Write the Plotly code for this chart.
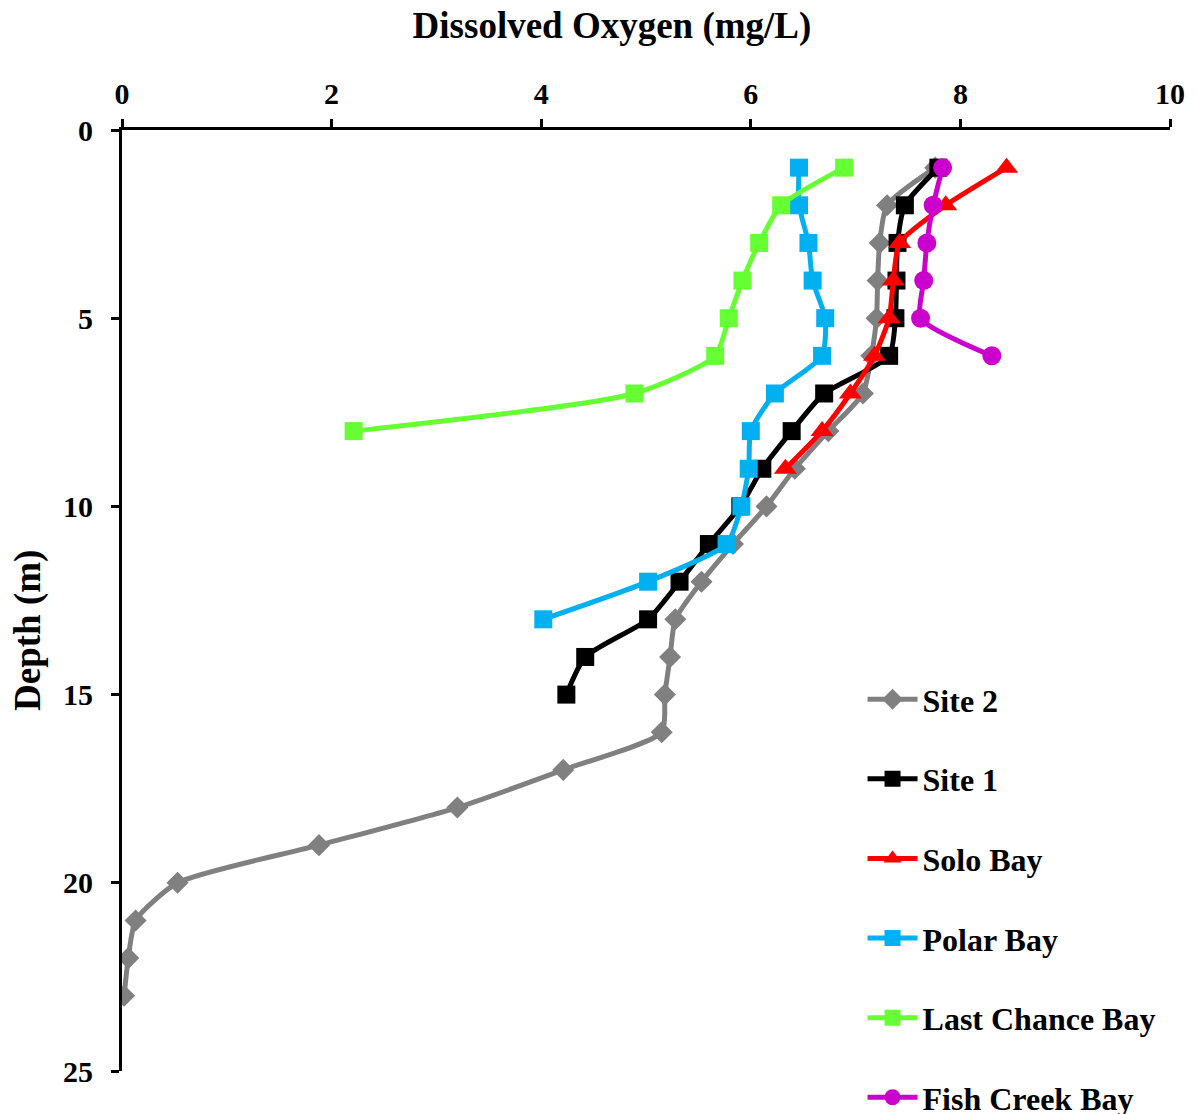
import plotly.graph_objects as go

site2_depth = list(range(1, 24))
site2_do = [7.76, 7.30, 7.23, 7.21, 7.20, 7.15, 7.07, 6.74, 6.42, 6.15, 5.83, 5.53, 5.28,
            5.23, 5.18, 5.15, 4.21, 3.20, 1.88, 0.53, 0.13, 0.06, 0.02]

site1_depth = list(range(1, 16))
site1_do = [7.79, 7.47, 7.40, 7.39, 7.38, 7.32, 6.70, 6.39, 6.11, 5.90, 5.60, 5.32, 5.02, 4.42, 4.24]

solo_depth = list(range(1, 10))
solo_do = [8.44, 7.86, 7.42, 7.36, 7.32, 7.18, 6.95, 6.68, 6.33]

polar_depth = list(range(1, 14))
polar_do = [6.46, 6.46, 6.55, 6.59, 6.71, 6.68, 6.23, 6.00, 5.98, 5.91, 5.77, 5.02, 4.02]

lastchance_depth = list(range(1, 9))
lastchance_do = [6.89, 6.29, 6.08, 5.92, 5.79, 5.66, 4.89, 2.21]

fishcreek_depth = list(range(1, 7))
fishcreek_do = [7.83, 7.74, 7.68, 7.65, 7.62, 8.30]

series = [
    ("Site 2", site2_do, site2_depth, "#808080", "diamond", 17),
    ("Site 1", site1_do, site1_depth, "#000000", "square", 18),
    ("Solo Bay", solo_do, solo_depth, "#FF0000", "triangle-up", 20),
    ("Polar Bay", polar_do, polar_depth, "#00B0F0", "square", 18),
    ("Last Chance Bay", lastchance_do, lastchance_depth, "#66FF33", "square", 18),
    ("Fish Creek Bay", fishcreek_do, fishcreek_depth, "#CC00CC", "circle", 19),
]

FONT = "Liberation Serif, Times New Roman, serif"

fig = go.Figure()
for i, (name, x, y, color, sym, size) in enumerate(series):
    fig.add_trace(go.Scatter(
        x=x, y=y, name=name, mode="lines+markers",
        line=dict(color=color, width=5, shape="spline", smoothing=0.6),
        marker=dict(color=color, symbol=sym, size=size),
        legendgroup=f"g{i}",
    ))

fig.update_layout(
    width=1196, height=1114,
    margin=dict(l=114, r=34, t=122, b=51, autoexpand=False),
    plot_bgcolor="white", paper_bgcolor="white",
    font=dict(family=FONT, size=24, color="black"),
    showlegend=True,
    title=dict(
        text="Dissolved Oxygen (mg/L)",
        xref="container", yref="container",
        x=0.505, y=0.985, xanchor="center", yanchor="middle",
        font=dict(family=FONT, size=37, color="black", weight="bold"),
    ),
    legend=dict(
        xref="container", yref="container",
        x=0.7145, y=0.404, xanchor="left", yanchor="top",
        font=dict(family=FONT, size=32, color="black", weight="bold"),
        tracegroupgap=35, bgcolor="rgba(0,0,0,0)",
        itemwidth=50,
    ),
    xaxis=dict(
        side="top", range=[0, 10], dtick=2, tick0=0,
        showgrid=False, zeroline=False, automargin=False,
        showline=True, linecolor="black", linewidth=3,
        ticks="outside", ticklen=8, tickwidth=3, tickcolor="black",
        ticklabelstandoff=3,
        tickfont=dict(family=FONT, size=30, weight="bold"),
    ),
    yaxis=dict(
        range=[25, 0], dtick=5, tick0=0,
        showgrid=False, zeroline=False, automargin=False,
        showline=True, linecolor="black", linewidth=3,
        ticks="outside", ticklen=8, tickwidth=3, tickcolor="black",
        ticklabelstandoff=12,
        tickfont=dict(family=FONT, size=30, weight="bold"),
    ),
    annotations=[dict(
        text="Depth (m)", xref="paper", yref="paper",
        x=-0.0897, y=0.4687, xanchor="center", yanchor="middle",
        textangle=-90, showarrow=False,
        font=dict(family=FONT, size=37, color="black", weight="bold"),
    )],
)

fig.write_html("out.html")
